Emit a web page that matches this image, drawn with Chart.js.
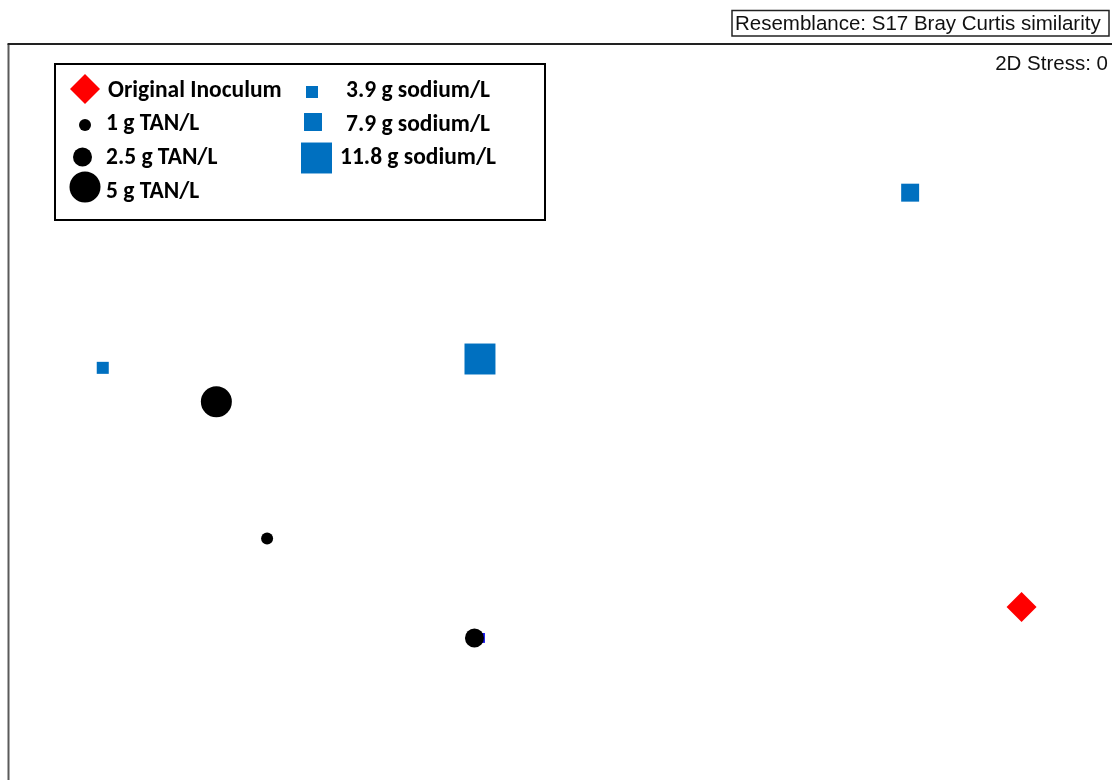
<!DOCTYPE html>
<html>
<head>
<meta charset="utf-8">
<title>NMDS ordination</title>
<script src="https://cdn.jsdelivr.net/npm/chart.js@4.4.1/dist/chart.umd.min.js"></script>
<style>
  html, body { margin: 0; padding: 0; background: #fff; }
  #wrap { position: relative; width: 1112px; height: 780px; }
</style>
</head>
<body>
<div id="wrap"><canvas id="nmds" width="1112" height="780"></canvas></div>
<script>
// sample groups and their 2D ordination coordinates (arbitrary MDS units)
const groups = ['Original Inoculum', '1 g TAN/L', '2.5 g TAN/L', '5 g TAN/L',
  '3.9 g sodium/L', '7.9 g sodium/L', '11.8 g sodium/L'];
const xCoords = [91.8, 23.4, 42.2, 18.8, 8.5, 81.7, 42.7];
const yCoords = [23.5, 32.8, 19.3, 51.4, 56.0, 79.8, 57.2];

// replicate that ends up under the 2.5 g TAN/L point
const hiddenX = [42.7];
const hiddenY = [19.3];

const resemblanceLabel = 'Resemblance: S17 Bray Curtis similarity';
const stressLabel = '2D Stress: 0';

// marker look per group
const markers = [
  { style: 'rectRot', radius: 15,   color: '#ff0000' },
  { style: 'circle',  radius: 6,    color: '#000000' },
  { style: 'circle',  radius: 9.5,  color: '#000000' },
  { style: 'circle',  radius: 15.5, color: '#000000' },
  { style: 'rect',    radius: 8.5,  color: '#0070c0' },
  { style: 'rect',    radius: 12.7, color: '#0070c0' },
  { style: 'rect',    radius: 21.9, color: '#0070c0' }
];

// legend slots: [markerX, markerY, textX, baseline, align]
const legendSlots = [
  [85, 89, 108, 97, 'left'],
  [85, 125, 106, 130, 'left'],
  [82.5, 157, 106, 163.5, 'left'],
  [85, 187, 106, 197.5, 'left'],
  [312, 92, 418, 97, 'center'],
  [313, 122, 418, 130.5, 'center'],
  [316.5, 158, 418, 163.5, 'center']
];

const legendFont = 'bold 23.5px Carlito, Lato, sans-serif';
const labelFont = '20.5px "Liberation Sans", Arial, sans-serif';

function drawMarker(ctx, m, x, y) {
  ctx.fillStyle = m.color;
  ctx.beginPath();
  if (m.style === 'circle') {
    ctx.arc(x, y, m.radius, 0, Math.PI * 2);
  } else if (m.style === 'rect') {
    const h = m.radius * Math.SQRT1_2;
    ctx.rect(x - h, y - h, 2 * h, 2 * h);
  } else {
    ctx.moveTo(x - m.radius, y);
    ctx.lineTo(x, y - m.radius);
    ctx.lineTo(x + m.radius, y);
    ctx.lineTo(x, y + m.radius);
    ctx.closePath();
  }
  ctx.fill();
}

// frame, header boxes and the two-column key
const decorations = {
  id: 'decorations',
  beforeDatasetsDraw(chart) {
    const ctx = chart.ctx;
    const area = chart.chartArea;
    ctx.save();
    ctx.lineWidth = 2;
    ctx.strokeStyle = '#5a5a5a';
    ctx.beginPath();
    ctx.moveTo(area.left - 0.5, area.bottom);
    ctx.lineTo(area.left - 0.5, area.top);
    ctx.stroke();
    ctx.strokeStyle = '#222';
    ctx.beginPath();
    ctx.moveTo(area.left - 1.5, area.top);
    ctx.lineTo(area.right, area.top);
    ctx.stroke();
    ctx.restore();
  },
  afterDraw(chart) {
    const ctx = chart.ctx;
    ctx.save();

    // resemblance header
    ctx.lineWidth = 1.5;
    ctx.strokeStyle = '#222';
    ctx.strokeRect(732, 10.5, 377, 25.5);
    ctx.fillStyle = '#111';
    ctx.font = labelFont;
    ctx.textAlign = 'left';
    ctx.textBaseline = 'alphabetic';
    ctx.fillText(resemblanceLabel, 735, 30);

    ctx.textAlign = 'right';
    ctx.fillText(stressLabel, 1108, 69.5);

    // key
    ctx.lineWidth = 2;
    ctx.strokeStyle = '#000';
    ctx.strokeRect(55, 64, 490, 156);
    ctx.font = legendFont;
    groups.forEach((name, i) => {
      const [mx, my, tx, ty, align] = legendSlots[i];
      drawMarker(ctx, markers[i], mx, my);
      ctx.fillStyle = '#000';
      ctx.textAlign = align;
      ctx.fillText(name, tx, ty);
    });
    ctx.restore();
  }
};

const datasets = groups.map((name, i) => ({
  label: name,
  data: [{ x: xCoords[i], y: yCoords[i] }],
  pointStyle: markers[i].style,
  pointRadius: markers[i].radius,
  pointHoverRadius: markers[i].radius,
  backgroundColor: markers[i].color,
  borderWidth: 0
}));
// drawn first, so it sits beneath the others
datasets.push({
  label: 'hidden',
  data: hiddenX.map((x, i) => ({ x: x, y: hiddenY[i] })),
  pointStyle: 'rect',
  pointRadius: 7,
  backgroundColor: '#1414f0',
  borderWidth: 0
});

document.fonts.load(legendFont).then(() => {
  new Chart(document.getElementById('nmds'), {
    type: 'scatter',
    data: { datasets: datasets },
    options: {
      responsive: false,
      animation: false,
      layout: {
        autoPadding: false,
        padding: { left: 9, top: 44, right: 0, bottom: 0 }
      },
      scales: {
        x: { type: 'linear', min: 0, max: 100, display: false },
        y: { type: 'linear', min: 0, max: 100, display: false }
      },
      plugins: {
        legend: { display: false },
        title: { display: false },
        tooltip: { enabled: false }
      }
    },
    plugins: [decorations]
  });
});
</script>
</body>
</html>
